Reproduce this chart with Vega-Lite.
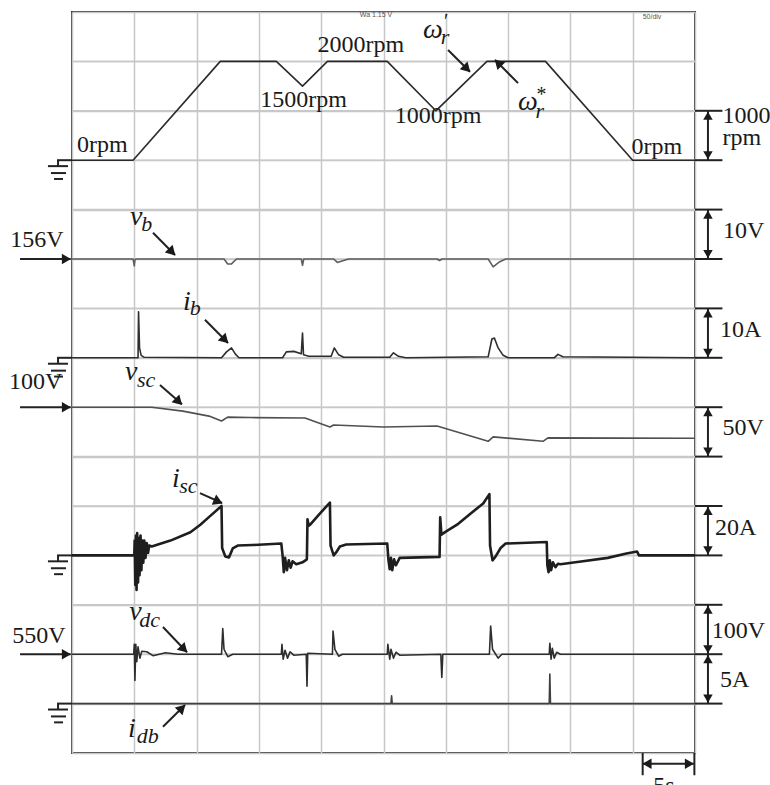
{
  "$schema": "https://vega.github.io/schema/vega-lite/v6.json",
  "width": 623,
  "height": 741,
  "autosize": {"type": "none"},
  "padding": {"left": 72, "top": 12, "right": 75, "bottom": 32},
  "background": "white",
  "config": {
    "view": {"stroke": "#3c3c3c", "strokeWidth": 2},
    "axis": {"domain": false, "ticks": false, "labels": false, "grid": true, "gridColor": "#c8c8c8", "gridWidth": 1.5, "gridOpacity": 1}
  },
  "encoding": {
    "x": {"field": "x", "type": "quantitative", "title": null, "scale": {"domain": [0, 50], "nice": false, "zero": false}, "axis": {"values": [0, 5, 10, 15, 20, 25, 30, 35, 40, 45, 50], "grid": true, "domain": false, "ticks": false, "labels": false}},
    "y": {"field": "y", "type": "quantitative", "title": null, "scale": {"domain": [0, 15], "nice": false, "zero": false}, "axis": {"values": [0, 1, 2, 3, 4, 5, 6, 7, 8, 9, 10, 11, 12, 13, 14, 15], "grid": true, "domain": false, "ticks": false, "labels": false}}
  },
  "datasets": {
    "gridy": [
      {"x": 0, "x2": 50, "y": 1}, {"x": 0, "x2": 50, "y": 2}, {"x": 0, "x2": 50, "y": 3}, {"x": 0, "x2": 50, "y": 4}, {"x": 0, "x2": 50, "y": 5}, {"x": 0, "x2": 50, "y": 6}, {"x": 0, "x2": 50, "y": 7}, {"x": 0, "x2": 50, "y": 8}, {"x": 0, "x2": 50, "y": 9}, {"x": 0, "x2": 50, "y": 10}, {"x": 0, "x2": 50, "y": 11}, {"x": 0, "x2": 50, "y": 12}, {"x": 0, "x2": 50, "y": 13}, {"x": 0, "x2": 50, "y": 14}
    ],
    "traces": [
      {"s": "speed", "x": 0, "y": 12}, {"s": "speed", "x": 4.9, "y": 12}, {"s": "speed", "x": 11.9, "y": 14}, {"s": "speed", "x": 16.4, "y": 14}, {"s": "speed", "x": 18.5, "y": 13.5}, {"s": "speed", "x": 20.5, "y": 14}, {"s": "speed", "x": 25.3, "y": 14}, {"s": "speed", "x": 29.2, "y": 13}, {"s": "speed", "x": 33.3, "y": 14}, {"s": "speed", "x": 38.0, "y": 14}, {"s": "speed", "x": 45.0, "y": 12}, {"s": "speed", "x": 50, "y": 12},
      {"s": "vb", "x": 0, "y": 10}, {"s": "vb", "x": 4.9, "y": 10}, {"s": "vb", "x": 5.0, "y": 9.86}, {"s": "vb", "x": 5.05, "y": 9.98}, {"s": "vb", "x": 5.15, "y": 10}, {"s": "vb", "x": 12.2, "y": 10}, {"s": "vb", "x": 12.5, "y": 9.9}, {"s": "vb", "x": 12.8, "y": 9.9}, {"s": "vb", "x": 13.2, "y": 10}, {"s": "vb", "x": 18.4, "y": 10}, {"s": "vb", "x": 18.5, "y": 9.87}, {"s": "vb", "x": 18.6, "y": 10}, {"s": "vb", "x": 21.0, "y": 10}, {"s": "vb", "x": 21.3, "y": 9.93}, {"s": "vb", "x": 21.8, "y": 9.97}, {"s": "vb", "x": 22.2, "y": 10}, {"s": "vb", "x": 29.3, "y": 10}, {"s": "vb", "x": 29.5, "y": 9.97}, {"s": "vb", "x": 29.7, "y": 10}, {"s": "vb", "x": 33.4, "y": 10}, {"s": "vb", "x": 33.8, "y": 9.84}, {"s": "vb", "x": 34.3, "y": 9.94}, {"s": "vb", "x": 34.8, "y": 10}, {"s": "vb", "x": 50, "y": 10},
      {"s": "ib", "x": 0, "y": 8}, {"s": "ib", "x": 5.3, "y": 8}, {"s": "ib", "x": 5.34, "y": 8.93}, {"s": "ib", "x": 5.42, "y": 8.2}, {"s": "ib", "x": 5.55, "y": 8.05}, {"s": "ib", "x": 5.8, "y": 8.01}, {"s": "ib", "x": 12.0, "y": 8}, {"s": "ib", "x": 12.4, "y": 8.12}, {"s": "ib", "x": 12.8, "y": 8.2}, {"s": "ib", "x": 13.1, "y": 8.08}, {"s": "ib", "x": 13.4, "y": 8}, {"s": "ib", "x": 16.9, "y": 8}, {"s": "ib", "x": 17.2, "y": 8.12}, {"s": "ib", "x": 17.8, "y": 8.13}, {"s": "ib", "x": 18.4, "y": 8.08}, {"s": "ib", "x": 18.5, "y": 8.5}, {"s": "ib", "x": 18.58, "y": 8.06}, {"s": "ib", "x": 19.0, "y": 8.03}, {"s": "ib", "x": 20.8, "y": 8.03}, {"s": "ib", "x": 21.05, "y": 8.2}, {"s": "ib", "x": 21.4, "y": 8.06}, {"s": "ib", "x": 21.8, "y": 8.01}, {"s": "ib", "x": 25.5, "y": 8.01}, {"s": "ib", "x": 25.8, "y": 8.1}, {"s": "ib", "x": 26.2, "y": 8.03}, {"s": "ib", "x": 26.8, "y": 8}, {"s": "ib", "x": 33.4, "y": 8.02}, {"s": "ib", "x": 33.7, "y": 8.38}, {"s": "ib", "x": 33.9, "y": 8.4}, {"s": "ib", "x": 34.2, "y": 8.2}, {"s": "ib", "x": 34.6, "y": 8.05}, {"s": "ib", "x": 35.0, "y": 8}, {"s": "ib", "x": 38.7, "y": 8}, {"s": "ib", "x": 39.0, "y": 8.07}, {"s": "ib", "x": 39.4, "y": 8.02}, {"s": "ib", "x": 50, "y": 8},
      {"s": "vsc", "x": 0, "y": 7}, {"s": "vsc", "x": 5, "y": 7}, {"s": "vsc", "x": 6.4, "y": 7}, {"s": "vsc", "x": 8.9, "y": 6.92}, {"s": "vsc", "x": 11.0, "y": 6.82}, {"s": "vsc", "x": 12.0, "y": 6.72}, {"s": "vsc", "x": 12.5, "y": 6.8}, {"s": "vsc", "x": 14.3, "y": 6.79}, {"s": "vsc", "x": 18.7, "y": 6.78}, {"s": "vsc", "x": 20.7, "y": 6.6}, {"s": "vsc", "x": 21.0, "y": 6.64}, {"s": "vsc", "x": 25.0, "y": 6.6}, {"s": "vsc", "x": 29.3, "y": 6.62}, {"s": "vsc", "x": 33.4, "y": 6.31}, {"s": "vsc", "x": 33.8, "y": 6.4}, {"s": "vsc", "x": 37.8, "y": 6.31}, {"s": "vsc", "x": 38.2, "y": 6.38}, {"s": "vsc", "x": 50, "y": 6.37},
      {"s": "vdc", "x": 0, "y": 2}, {"s": "vdc", "x": 4.95, "y": 2}, {"s": "vdc", "x": 5.0, "y": 2.2}, {"s": "vdc", "x": 5.05, "y": 1.47}, {"s": "vdc", "x": 5.12, "y": 2.2}, {"s": "vdc", "x": 5.2, "y": 1.85}, {"s": "vdc", "x": 5.3, "y": 2.15}, {"s": "vdc", "x": 5.45, "y": 1.92}, {"s": "vdc", "x": 5.6, "y": 2.06}, {"s": "vdc", "x": 6.0, "y": 2.05}, {"s": "vdc", "x": 6.5, "y": 1.97}, {"s": "vdc", "x": 7.0, "y": 2.0}, {"s": "vdc", "x": 7.5, "y": 2.03}, {"s": "vdc", "x": 8.5, "y": 2.0}, {"s": "vdc", "x": 12.0, "y": 2.0}, {"s": "vdc", "x": 12.1, "y": 2.52}, {"s": "vdc", "x": 12.2, "y": 2.1}, {"s": "vdc", "x": 12.5, "y": 1.95}, {"s": "vdc", "x": 12.9, "y": 2.0}, {"s": "vdc", "x": 16.8, "y": 2.0}, {"s": "vdc", "x": 16.85, "y": 2.2}, {"s": "vdc", "x": 16.95, "y": 1.9}, {"s": "vdc", "x": 17.1, "y": 2.08}, {"s": "vdc", "x": 17.3, "y": 1.92}, {"s": "vdc", "x": 17.5, "y": 2.05}, {"s": "vdc", "x": 17.8, "y": 1.98}, {"s": "vdc", "x": 18.8, "y": 2.0}, {"s": "vdc", "x": 18.86, "y": 1.35}, {"s": "vdc", "x": 18.92, "y": 2.02}, {"s": "vdc", "x": 20.9, "y": 2.0}, {"s": "vdc", "x": 20.95, "y": 2.47}, {"s": "vdc", "x": 21.1, "y": 2.1}, {"s": "vdc", "x": 21.4, "y": 1.96}, {"s": "vdc", "x": 21.7, "y": 2.0}, {"s": "vdc", "x": 25.3, "y": 2.0}, {"s": "vdc", "x": 25.35, "y": 2.2}, {"s": "vdc", "x": 25.5, "y": 1.9}, {"s": "vdc", "x": 25.6, "y": 2.1}, {"s": "vdc", "x": 25.8, "y": 1.92}, {"s": "vdc", "x": 26.0, "y": 2.04}, {"s": "vdc", "x": 26.3, "y": 1.98}, {"s": "vdc", "x": 29.6, "y": 2.0}, {"s": "vdc", "x": 29.68, "y": 1.53}, {"s": "vdc", "x": 29.76, "y": 2.0}, {"s": "vdc", "x": 33.5, "y": 2.0}, {"s": "vdc", "x": 33.6, "y": 2.57}, {"s": "vdc", "x": 33.75, "y": 2.1}, {"s": "vdc", "x": 34.2, "y": 1.92}, {"s": "vdc", "x": 34.5, "y": 2.0}, {"s": "vdc", "x": 38.3, "y": 2.0}, {"s": "vdc", "x": 38.35, "y": 2.22}, {"s": "vdc", "x": 38.45, "y": 1.9}, {"s": "vdc", "x": 38.55, "y": 2.12}, {"s": "vdc", "x": 38.7, "y": 1.92}, {"s": "vdc", "x": 38.9, "y": 2.04}, {"s": "vdc", "x": 39.2, "y": 2.0}, {"s": "vdc", "x": 50, "y": 2},
      {"s": "idb", "x": 0, "y": 1}, {"s": "idb", "x": 25.6, "y": 1}, {"s": "idb", "x": 25.65, "y": 1.16}, {"s": "idb", "x": 25.7, "y": 1}, {"s": "idb", "x": 38.3, "y": 1}, {"s": "idb", "x": 38.35, "y": 1.6}, {"s": "idb", "x": 38.4, "y": 1}, {"s": "idb", "x": 50, "y": 1}
    ],
    "isc": [
      {"x": 0, "y": 4}, {"x": 5.0, "y": 4}, {"x": 5.03, "y": 4.3}, {"x": 5.08, "y": 3.4}, {"x": 5.13, "y": 4.4}, {"x": 5.18, "y": 3.3}, {"x": 5.23, "y": 4.45}, {"x": 5.3, "y": 3.45}, {"x": 5.36, "y": 4.35}, {"x": 5.42, "y": 3.6}, {"x": 5.5, "y": 4.4}, {"x": 5.57, "y": 3.7}, {"x": 5.64, "y": 4.3}, {"x": 5.72, "y": 3.85}, {"x": 5.8, "y": 4.3}, {"x": 5.9, "y": 3.95}, {"x": 6.0, "y": 4.25}, {"x": 6.1, "y": 4.05}, {"x": 6.2, "y": 4.2}, {"x": 6.4, "y": 4.18}, {"x": 7.9, "y": 4.3}, {"x": 9.5, "y": 4.47}, {"x": 10.3, "y": 4.62}, {"x": 11.1, "y": 4.8}, {"x": 12.0, "y": 5.0}, {"x": 12.05, "y": 4.15}, {"x": 12.3, "y": 3.98}, {"x": 12.6, "y": 3.96}, {"x": 12.9, "y": 4.14}, {"x": 13.3, "y": 4.2}, {"x": 14.5, "y": 4.21}, {"x": 16.8, "y": 4.24}, {"x": 16.9, "y": 4.0}, {"x": 17.0, "y": 3.66}, {"x": 17.1, "y": 3.95}, {"x": 17.25, "y": 3.7}, {"x": 17.4, "y": 3.9}, {"x": 17.55, "y": 3.75}, {"x": 17.7, "y": 3.88}, {"x": 18.0, "y": 3.82}, {"x": 18.5, "y": 3.86}, {"x": 18.85, "y": 3.92}, {"x": 18.9, "y": 4.73}, {"x": 19.0, "y": 4.6}, {"x": 19.1, "y": 4.62}, {"x": 19.8, "y": 4.82}, {"x": 20.7, "y": 5.07}, {"x": 20.75, "y": 4.2}, {"x": 21.0, "y": 4.0}, {"x": 21.2, "y": 4.06}, {"x": 21.5, "y": 4.18}, {"x": 22.0, "y": 4.22}, {"x": 25.3, "y": 4.24}, {"x": 25.4, "y": 3.9}, {"x": 25.5, "y": 3.72}, {"x": 25.6, "y": 3.95}, {"x": 25.7, "y": 3.7}, {"x": 25.85, "y": 3.92}, {"x": 26.0, "y": 3.8}, {"x": 26.3, "y": 3.95}, {"x": 29.5, "y": 3.97}, {"x": 29.55, "y": 4.77}, {"x": 29.65, "y": 4.42}, {"x": 30.0, "y": 4.48}, {"x": 31.0, "y": 4.64}, {"x": 32.0, "y": 4.85}, {"x": 33.0, "y": 5.05}, {"x": 33.5, "y": 5.24}, {"x": 33.55, "y": 4.2}, {"x": 33.75, "y": 3.9}, {"x": 34.0, "y": 3.98}, {"x": 34.4, "y": 4.15}, {"x": 34.8, "y": 4.24}, {"x": 38.1, "y": 4.27}, {"x": 38.15, "y": 3.8}, {"x": 38.25, "y": 3.66}, {"x": 38.35, "y": 3.9}, {"x": 38.45, "y": 3.7}, {"x": 38.6, "y": 3.86}, {"x": 38.8, "y": 3.76}, {"x": 39.0, "y": 3.83}, {"x": 39.2, "y": 3.82}, {"x": 41.0, "y": 3.88}, {"x": 43.0, "y": 3.95}, {"x": 44.5, "y": 4.04}, {"x": 45.35, "y": 4.08}, {"x": 45.5, "y": 4.0}, {"x": 50, "y": 4.0}
    ],
    "segs": [
      {"x": 6.50, "y": 10.53, "x2": 8.27, "y2": 10.08},
      {"x": 10.67, "y": 8.77, "x2": 12.52, "y2": 8.30},
      {"x": 7.06, "y": 7.45, "x2": 8.83, "y2": 7.06},
      {"x": 10.27, "y": 5.26, "x2": 12.04, "y2": 5.06},
      {"x": 7.30, "y": 2.55, "x2": 9.23, "y2": 2.04},
      {"x": 7.30, "y": 0.53, "x2": 9.07, "y2": 0.97},
      {"x": 30.18, "y": 14.23, "x2": 31.94, "y2": 13.79},
      {"x": 35.80, "y": 13.56, "x2": 33.95, "y2": 14.03},
      {"x": -4.17, "y": 10, "x2": -0.1, "y2": 10},
      {"x": -4.17, "y": 7, "x2": -0.1, "y2": 7},
      {"x": -4.17, "y": 2, "x2": -0.1, "y2": 2},
      {"x": 51.04, "y": 12, "x2": 51.04, "y2": 13},
      {"x": 51.04, "y": 10, "x2": 51.04, "y2": 11},
      {"x": 51.04, "y": 8, "x2": 51.04, "y2": 9},
      {"x": 51.04, "y": 6, "x2": 51.04, "y2": 7},
      {"x": 51.04, "y": 4, "x2": 51.04, "y2": 5},
      {"x": 51.04, "y": 2, "x2": 51.04, "y2": 3},
      {"x": 51.04, "y": 1, "x2": 51.04, "y2": 2},
      {"x": 50, "y": 13, "x2": 52.2, "y2": 13},
      {"x": 50, "y": 12, "x2": 52.2, "y2": 12},
      {"x": 50, "y": 11, "x2": 52.2, "y2": 11},
      {"x": 50, "y": 10, "x2": 52.2, "y2": 10},
      {"x": 50, "y": 9, "x2": 52.2, "y2": 9},
      {"x": 50, "y": 8, "x2": 52.2, "y2": 8},
      {"x": 50, "y": 7, "x2": 52.2, "y2": 7},
      {"x": 50, "y": 6, "x2": 52.2, "y2": 6},
      {"x": 50, "y": 5, "x2": 52.2, "y2": 5},
      {"x": 50, "y": 4, "x2": 52.2, "y2": 4},
      {"x": 50, "y": 3, "x2": 52.2, "y2": 3},
      {"x": 50, "y": 2, "x2": 52.2, "y2": 2},
      {"x": 50, "y": 1, "x2": 52.2, "y2": 1},
      {"x": 45.8, "y": -0.22, "x2": 49.9, "y2": -0.22},
      {"x": 45.8, "y": 0, "x2": 45.8, "y2": -0.45},
      {"x": 49.95, "y": 0, "x2": 49.95, "y2": -0.45},
      {"x": -1.2, "y": 12, "x2": 0, "y2": 12}, {"x": -1.12, "y": 12, "x2": -1.12, "y2": 11.88}, {"x": -1.93, "y": 11.88, "x2": -0.32, "y2": 11.88}, {"x": -1.69, "y": 11.74, "x2": -0.48, "y2": 11.74}, {"x": -1.44, "y": 11.62, "x2": -0.72, "y2": 11.62},
      {"x": -1.2, "y": 8, "x2": 0, "y2": 8}, {"x": -1.12, "y": 8, "x2": -1.12, "y2": 7.88}, {"x": -1.93, "y": 7.88, "x2": -0.32, "y2": 7.88}, {"x": -1.69, "y": 7.74, "x2": -0.48, "y2": 7.74}, {"x": -1.44, "y": 7.62, "x2": -0.72, "y2": 7.62},
      {"x": -1.2, "y": 4, "x2": 0, "y2": 4}, {"x": -1.12, "y": 4, "x2": -1.12, "y2": 3.88}, {"x": -1.93, "y": 3.88, "x2": -0.32, "y2": 3.88}, {"x": -1.69, "y": 3.74, "x2": -0.48, "y2": 3.74}, {"x": -1.44, "y": 3.62, "x2": -0.72, "y2": 3.62},
      {"x": -1.2, "y": 1, "x2": 0, "y2": 1}, {"x": -1.12, "y": 1, "x2": -1.12, "y2": 0.88}, {"x": -1.93, "y": 0.88, "x2": -0.32, "y2": 0.88}, {"x": -1.69, "y": 0.74, "x2": -0.48, "y2": 0.74}, {"x": -1.44, "y": 0.62, "x2": -0.72, "y2": 0.62}
    ],
    "heads": [
      {"g": "right", "x": -0.45, "y": 10}, {"g": "right", "x": -0.45, "y": 7}, {"g": "right", "x": -0.45, "y": 2}, {"g": "right", "x": 49.55, "y": -0.22},
      {"g": "left", "x": 46.15, "y": -0.22},
      {"g": "up", "x": 51.04, "y": 12.9}, {"g": "up", "x": 51.04, "y": 10.9}, {"g": "up", "x": 51.04, "y": 8.9}, {"g": "up", "x": 51.04, "y": 6.9}, {"g": "up", "x": 51.04, "y": 4.9}, {"g": "up", "x": 51.04, "y": 2.9}, {"g": "up", "x": 51.04, "y": 1.9},
      {"g": "down", "x": 51.04, "y": 12.1}, {"g": "down", "x": 51.04, "y": 10.1}, {"g": "down", "x": 51.04, "y": 8.1}, {"g": "down", "x": 51.04, "y": 6.1}, {"g": "down", "x": 51.04, "y": 4.1}, {"g": "down", "x": 51.04, "y": 2.1}, {"g": "down", "x": 51.04, "y": 1.1},
      {"g": "dr", "x": 8.03, "y": 10.14}, {"g": "dr", "x": 12.28, "y": 8.36}, {"g": "dr", "x": 8.57, "y": 7.11}, {"g": "dr", "x": 8.99, "y": 2.10}, {"g": "dr", "x": 31.70, "y": 13.85},
      {"g": "r2", "x": 11.74, "y": 5.09},
      {"g": "ur", "x": 8.83, "y": 0.91},
      {"g": "ul", "x": 34.19, "y": 13.97}
    ],
    "txt": [
      {"x": 0.4, "y": 12.17, "t": "0rpm"},
      {"x": 15.1, "y": 13.07, "t": "1500rpm"},
      {"x": 19.7, "y": 14.19, "t": "2000rpm"},
      {"x": 25.9, "y": 12.75, "t": "1000rpm"},
      {"x": 44.9, "y": 12.12, "t": "0rpm"},
      {"x": -4.95, "y": 10.24, "t": "156V"},
      {"x": -5.05, "y": 7.37, "t": "100V"},
      {"x": -4.8, "y": 2.23, "t": "550V"},
      {"x": 52.2, "y": 12.75, "t": "1000"},
      {"x": 52.2, "y": 12.3, "t": "rpm"},
      {"x": 52.25, "y": 10.43, "t": "10V"},
      {"x": 52.0, "y": 8.42, "t": "10A"},
      {"x": 52.2, "y": 6.44, "t": "50V"},
      {"x": 51.6, "y": 4.41, "t": "20A"},
      {"x": 51.35, "y": 2.33, "t": "100V"},
      {"x": 52.0, "y": 1.34, "t": "5A"},
      {"x": 46.65, "y": -0.8, "t": "5s"}
    ],
    "ital": [
      {"x": 4.65, "y": 10.69, "t": "v"},
      {"x": 8.91, "y": 8.97, "t": "i"},
      {"x": 4.26, "y": 7.55, "t": "v"},
      {"x": 8.03, "y": 5.38, "t": "i"},
      {"x": 4.6, "y": 2.69, "t": "v"},
      {"x": 4.5, "y": 0.32, "t": "i"},
      {"x": 28.17, "y": 14.47, "t": "ω"},
      {"x": 35.8, "y": 13.02, "t": "ω"}
    ],
    "sub": [
      {"x": 5.55, "y": 10.57, "t": "b"},
      {"x": 9.45, "y": 8.86, "t": "b"},
      {"x": 5.22, "y": 7.41, "t": "sc"},
      {"x": 8.6, "y": 5.26, "t": "sc"},
      {"x": 5.4, "y": 2.55, "t": "dc"},
      {"x": 5.2, "y": 0.2, "t": "db"},
      {"x": 29.6, "y": 14.35, "t": "r"},
      {"x": 37.2, "y": 12.86, "t": "r"}
    ],
    "sup": [
      {"x": 29.75, "y": 14.68, "t": "′"},
      {"x": 37.2, "y": 13.2, "t": "*"}
    ],
    "tiny": [
      {"x": 23.1, "y": 14.93, "t": "Wa 1.15 V"},
      {"x": 45.8, "y": 14.9, "t": "50/div"}
    ]
  },
  "layer": [
    {
      "data": {"name": "gridy"},
      "mark": {"type": "rule", "strokeWidth": 1.5, "color": "#c8c8c8"},
      "encoding": {
        "x2": {"field": "x2"}
      }
    },
    {
      "data": {"name": "traces"},
      "mark": {"type": "line", "strokeWidth": 1.6, "strokeJoin": "round"},
      "encoding": {
        "color": {"field": "s", "type": "nominal", "legend": null, "scale": {"domain": ["speed", "vb", "ib", "vsc", "vdc", "idb"], "range": ["#2a2a2a", "#5e5e5e", "#2e2e2e", "#505050", "#2e2e2e", "#404040"]}}
      }
    },
    {
      "data": {"name": "isc"},
      "mark": {"type": "line", "strokeWidth": 2.6, "color": "#1e1e1e", "strokeJoin": "round"}
    },
    {
      "data": {"name": "segs"},
      "mark": {"type": "rule", "strokeWidth": 2, "color": "#222222"},
      "encoding": {
        "x2": {"field": "x2"},
        "y2": {"field": "y2"}
      }
    },
    {
      "data": {"name": "heads"},
      "transform": [{"filter": "datum.g === 'right'"}],
      "mark": {"type": "point", "shape": "triangle-right", "filled": true, "size": 110, "color": "#1a1a1a", "opacity": 1}
    },
    {
      "data": {"name": "heads"},
      "transform": [{"filter": "datum.g === 'left'"}],
      "mark": {"type": "point", "shape": "triangle-left", "filled": true, "size": 110, "color": "#1a1a1a", "opacity": 1}
    },
    {
      "data": {"name": "heads"},
      "transform": [{"filter": "datum.g === 'up'"}],
      "mark": {"type": "point", "shape": "triangle-up", "filled": true, "size": 90, "color": "#1a1a1a", "opacity": 1}
    },
    {
      "data": {"name": "heads"},
      "transform": [{"filter": "datum.g === 'down'"}],
      "mark": {"type": "point", "shape": "triangle-down", "filled": true, "size": 90, "color": "#1a1a1a", "opacity": 1}
    },
    {
      "data": {"name": "heads"},
      "transform": [{"filter": "datum.g === 'dr'"}],
      "mark": {"type": "point", "shape": "triangle-up", "filled": true, "size": 120, "angle": 135, "color": "#1a1a1a", "opacity": 1}
    },
    {
      "data": {"name": "heads"},
      "transform": [{"filter": "datum.g === 'r2'"}],
      "mark": {"type": "point", "shape": "triangle-up", "filled": true, "size": 120, "angle": 114, "color": "#1a1a1a", "opacity": 1}
    },
    {
      "data": {"name": "heads"},
      "transform": [{"filter": "datum.g === 'ur'"}],
      "mark": {"type": "point", "shape": "triangle-up", "filled": true, "size": 120, "angle": 45, "color": "#1a1a1a", "opacity": 1}
    },
    {
      "data": {"name": "heads"},
      "transform": [{"filter": "datum.g === 'ul'"}],
      "mark": {"type": "point", "shape": "triangle-up", "filled": true, "size": 120, "angle": 315, "color": "#1a1a1a", "opacity": 1}
    },
    {
      "data": {"name": "txt"},
      "mark": {"type": "text", "font": "Liberation Serif", "fontSize": 24, "align": "left", "baseline": "alphabetic", "color": "#1a1a1a"},
      "encoding": {"text": {"field": "t"}}
    },
    {
      "data": {"name": "ital"},
      "mark": {"type": "text", "font": "Liberation Serif", "fontStyle": "italic", "fontSize": 28, "align": "left", "baseline": "alphabetic", "color": "#1a1a1a"},
      "encoding": {"text": {"field": "t"}}
    },
    {
      "data": {"name": "sub"},
      "mark": {"type": "text", "font": "Liberation Serif", "fontStyle": "italic", "fontSize": 22, "align": "left", "baseline": "alphabetic", "color": "#1a1a1a"},
      "encoding": {"text": {"field": "t"}}
    },
    {
      "data": {"name": "sup"},
      "mark": {"type": "text", "font": "Liberation Serif", "fontStyle": "italic", "fontSize": 20, "align": "left", "baseline": "alphabetic", "color": "#1a1a1a"},
      "encoding": {"text": {"field": "t"}}
    },
    {
      "data": {"name": "tiny"},
      "mark": {"type": "text", "font": "Liberation Sans", "fontSize": 7, "align": "left", "baseline": "middle", "color": "#555555"},
      "encoding": {"text": {"field": "t"}}
    }
  ]
}
